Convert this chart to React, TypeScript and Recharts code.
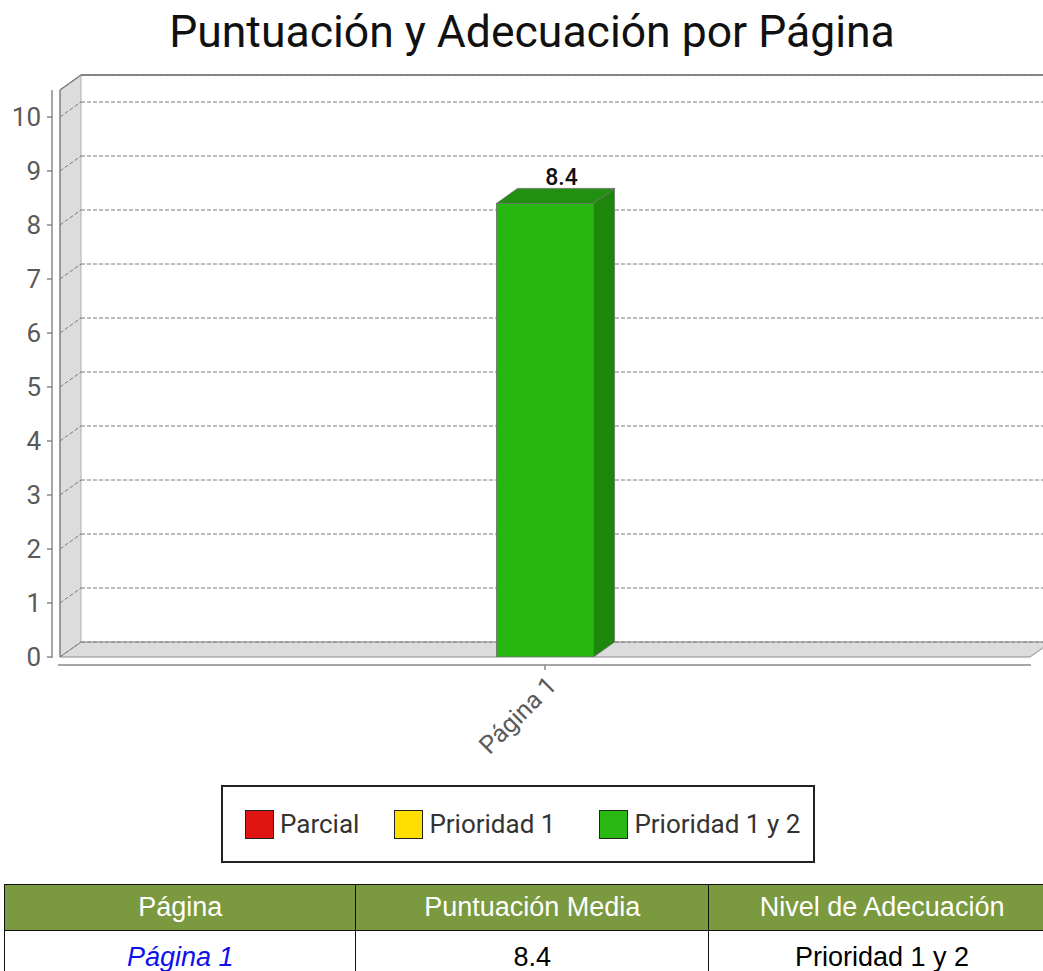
import React from 'react';
import { BarChart, Bar, XAxis, YAxis, CartesianGrid } from 'recharts';

const categories = ['Página 1'];
const scores = [8.4];
const yTicks = [0, 1, 2, 3, 4, 5, 6, 7, 8, 9, 10];
const yDomain: [number, number] = [0, 10.5];
const legendLabels = ['Parcial', 'Prioridad 1', 'Prioridad 1 y 2'];
const legendColors = ['#e11414', '#ffdf00', '#29b712'];
const tableHeaders = ['Página', 'Puntuación Media', 'Nivel de Adecuación'];
const tableLevels = ['Prioridad 1 y 2'];

const data = categories.map((name, i) => ({ name, score: scores[i] }));

const DX = 21;
const DY = 15;
const FONT = 'Roboto, "Noto Sans", sans-serif';

const GridLine = (props: any) => {
  const { x1, x2, y1, index, x, y, width, height } = props;
  const left = x ?? x1;
  const right = width != null ? left + width : x2;
  const top = y;
  const bottom = y + height;
  return (
    <g>
      {index === 0 && (
        <g>
          <polygon
            points={`${left},${top} ${left + DX},${top - DY} ${left + DX},${bottom - DY} ${left},${bottom}`}
            fill="#dcdcdc"
            stroke="none"
          />
          <polygon
            points={`${left},${bottom} ${left + DX},${bottom - DY} ${right + DX},${bottom - DY} ${right},${bottom}`}
            fill="#dcdcdc"
            stroke="#8a8a8a"
            strokeWidth={1}
          />
          <line x1={left + DX} y1={top - DY} x2={left + DX} y2={bottom - DY} stroke="#b0b0b0" />
          <line x1={left} y1={top} x2={left} y2={bottom} stroke="#808080" strokeWidth={1.5} />
          <line x1={left} y1={top} x2={left + DX} y2={top - DY} stroke="#808080" strokeWidth={1.5} />
          <line x1={left + DX} y1={top - DY} x2={right + DX + 20} y2={top - DY} stroke="#8a8a8a" strokeWidth={2} />
          <line x1={left - 8} y1={top} x2={left - 8} y2={bottom + 1} stroke="#888" strokeWidth={1.5} />
          <line x1={left - 2} y1={bottom + 8} x2={right + 1} y2={bottom + 8} stroke="#888" strokeWidth={1.5} />
        </g>
      )}
      <line x1={x1} y1={y1} x2={x1 + DX} y2={y1 - DY} stroke="#7a7a7a" strokeDasharray="4 2" />
      <line x1={x1 + DX} y1={y1 - DY} x2={x2 + DX + 20} y2={y1 - DY} stroke="#7a7a7a" strokeDasharray="4 2" />
    </g>
  );
};

const Bar3D = (props: any) => {
  const { x, y, width, height } = props;
  const b = y + height;
  return (
    <g>
      <polygon
        points={`${x + width},${y} ${x + width + DX},${y - DY} ${x + width + DX},${b - DY} ${x + width},${b}`}
        fill="#1d870c"
        stroke="#6e6e6e"
        strokeWidth={0.8}
      />
      <polygon
        points={`${x},${y} ${x + DX},${y - DY} ${x + width + DX},${y - DY} ${x + width},${y}`}
        fill="#218f0f"
        stroke="#6e6e6e"
        strokeWidth={0.8}
      />
      <rect x={x} y={y} width={width} height={height} fill="#27b80f" stroke="#6e6e6e" strokeWidth={0.8} />
    </g>
  );
};

const BarLabel = (props: any) => {
  const { x, y, width, value } = props;
  return (
    <text
      x={x + width / 2 + DX / 2 + 6}
      y={y - DY - 3}
      textAnchor="middle"
      fontSize={23}
      fontWeight={500}
      fontFamily={FONT}
      fill="#111"
    >
      {value}
    </text>
  );
};

const YTick = (props: any) => {
  const { x, y, payload } = props;
  return (
    <g>
      <line x1={x - 13} y1={y} x2={x - 8} y2={y} stroke="#888" strokeWidth={1.5} />
      <text x={x - 19} y={y} dy="0.36em" textAnchor="end" fontSize={26} fontFamily={FONT} fill="#5a5a5a">
        {payload.value}
      </text>
    </g>
  );
};

const XTick = (props: any) => {
  const { x, y, payload } = props;
  const ax = x + 13;
  const ay = y + 30;
  return (
    <g>
      <line x1={x} y1={y + 8} x2={x} y2={y + 13} stroke="#888" strokeWidth={1.5} />
      <text
        x={ax}
        y={ay}
        transform={`rotate(-45 ${ax} ${ay})`}
        textAnchor="end"
        fontSize={25}
        fontFamily={FONT}
        fill="#5a5a5a"
      >
        {payload.value}
      </text>
    </g>
  );
};

export default function App() {
  return (
    <div
      style={{
        position: 'absolute',
        left: 0,
        top: 0,
        width: 1043,
        height: 971,
        overflow: 'hidden',
        background: '#fff',
      }}
    >
      <svg width={1043} height={70} style={{ position: 'absolute', left: 0, top: 0 }}>
        <text x={532} y={47} textAnchor="middle" fontSize={44.5} fontFamily={FONT} fill="#111">
          Puntuación y Adecuación por Página
        </text>
      </svg>
      <div style={{ position: 'absolute', left: 0, top: 0 }}>
        <BarChart
          width={1043}
          height={790}
          data={data}
          margin={{ top: 90, right: 13, bottom: 0, left: 0 }}
          barCategoryGap="45%"
        >
          <CartesianGrid vertical={false} horizontal={GridLine as any} />
          <YAxis
            width={60}
            domain={yDomain}
            ticks={yTicks}
            allowDataOverflow
            axisLine={false}
            tickLine={false}
            tickSize={0}
            tickMargin={0}
            tick={YTick}
          />
          <XAxis
            dataKey="name"
            height={133}
            axisLine={false}
            tickLine={false}
            tickSize={0}
            tickMargin={0}
            tick={XTick}
            interval={0}
          />
          <Bar dataKey="score" shape={Bar3D} label={BarLabel} isAnimationActive={false} />
        </BarChart>
      </div>
      <div
        style={{
          position: 'absolute',
          left: 221,
          top: 785,
          width: 568,
          height: 74,
          border: '2px solid #222',
          display: 'flex',
          alignItems: 'center',
          paddingLeft: 22,
          boxSizing: 'content-box',
          fontFamily: FONT,
          whiteSpace: 'nowrap',
        }}
      >
        {legendLabels.map((label, i) => (
          <div
            key={label}
            style={{ display: 'flex', alignItems: 'center', flexShrink: 0, marginRight: i === 0 ? 35 : 44 }}
          >
            <div
              style={{
                width: 27,
                height: 27,
                flexShrink: 0,
                background: legendColors[i],
                border: '1.5px solid #222',
                marginRight: 6,
              }}
            />
            <span style={{ fontSize: 26, color: '#333' }}>{label}</span>
          </div>
        ))}
      </div>
      <table
        style={{
          position: 'absolute',
          left: 4,
          top: 884,
          width: 1052,
          borderCollapse: 'collapse',
          fontFamily: '"Liberation Sans", Arial, sans-serif',
          fontSize: 27,
        }}
      >
        <thead>
          <tr style={{ background: '#7b9a40', color: '#fff', height: 46 }}>
            {tableHeaders.map((h, i) => (
              <th
                key={h}
                style={{
                  border: '1.5px solid #111',
                  fontWeight: 400,
                  width: i === 0 ? 352 : i === 1 ? 353 : 347,
                  padding: 0,
                }}
              >
                {h}
              </th>
            ))}
          </tr>
        </thead>
        <tbody>
          {categories.map((c, i) => (
            <tr key={c} style={{ height: 54 }}>
              <td style={{ border: '1.5px solid #111', textAlign: 'center', padding: 0 }}>
                <a style={{ color: '#1010ee', fontStyle: 'italic', textDecoration: 'none' }}>{c}</a>
              </td>
              <td style={{ border: '1.5px solid #111', textAlign: 'center', padding: 0 }}>{scores[i]}</td>
              <td style={{ border: '1.5px solid #111', textAlign: 'center', padding: 0 }}>{tableLevels[i]}</td>
            </tr>
          ))}
        </tbody>
      </table>
    </div>
  );
}
